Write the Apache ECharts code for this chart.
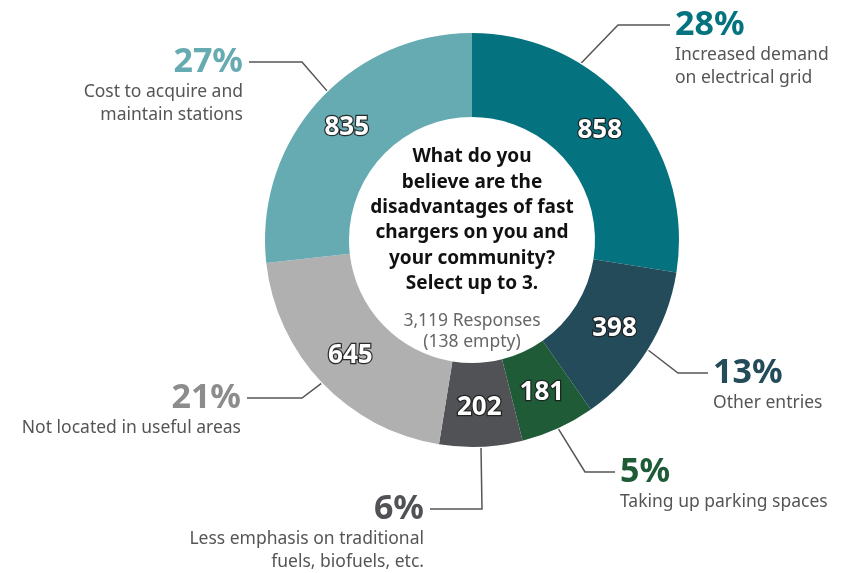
<!DOCTYPE html>
<html>
<head>
<meta charset="utf-8">
<script src="https://cdn.jsdelivr.net/npm/echarts@6/dist/echarts.min.js"></script>
<style>
html, body { margin: 0; padding: 0; background: #fff; }
#main { width: 848px; height: 573px; }
</style>
</head>
<body>
<div id="main"></div>
<script>
// survey answers, clockwise from 12 o'clock
var categories = [
  'Increased demand\non electrical grid',
  'Other entries',
  'Taking up parking spaces',
  'Less emphasis on traditional\nfuels, biofuels, etc.',
  'Not located in useful areas',
  'Cost to acquire and\nmaintain stations'
];
var counts = [858, 398, 181, 202, 645, 835];
var percents = ['28%', '13%', '5%', '6%', '21%', '27%'];

var sliceColors = ['#04737f', '#244b5a', '#1f5b37', '#515256', '#b0b0b0', '#66abb2'];
var pctColors = ['#04737f', '#244b5a', '#1f5b37', '#515256', '#8c8c8c', '#66abb2'];

var cx = 472, cy = 240, rIn = 123, rOut = 207;
var FONT = '"Noto Sans", "Open Sans", sans-serif';

// leader lines: angle (null = slice middle), elbow point, end x, side
var leaders = [
  { angle: 31.7, elbow: [618, 25], end: 670, right: true },
  { angle: null, elbow: [678, 373], end: 708, right: true },
  { angle: null, elbow: [585, 472], end: 615, right: true },
  { angle: null, elbow: [482, 509], end: 430, right: false },
  { angle: null, elbow: [302, 398], end: 247, right: false },
  { angle: 315.8, elbow: [302, 62], end: 249, right: false }
];

var total = counts.reduce(function (a, b) { return a + b; }, 0);
function midAngle(i) {
  var before = 0;
  for (var k = 0; k < i; k++) before += counts[k];
  return (before + counts[i] / 2) / total * 360;
}
function onRim(deg) {
  var a = deg * Math.PI / 180;
  return [cx + (rOut + 1) * Math.sin(a), cy - (rOut + 1) * Math.cos(a)];
}

var data = categories.map(function (c, i) {
  return { name: c, value: counts[i], itemStyle: { color: sliceColors[i] } };
});

var chart = echarts.init(document.getElementById('main'));

var option = {
  backgroundColor: '#fff',
  animation: false,
  graphic: [
    {
      type: 'text', x: cx, y: 144,
      style: {
        text: 'What do you\nbelieve are the\ndisadvantages of fast\nchargers on you and\nyour community?\nSelect up to 3.',
        font: 'bold 19px ' + FONT, lineHeight: 25.4,
        fill: '#111', align: 'center', verticalAlign: 'top'
      }
    },
    {
      type: 'text', x: cx, y: 311,
      style: {
        text: '3,119 Responses\n(138 empty)',
        font: '17.5px ' + FONT, lineHeight: 21,
        fill: '#666', align: 'center', verticalAlign: 'top'
      }
    }
  ],
  series: [
    {
      // the ring with counts inside
      type: 'pie',
      center: [cx, cy],
      radius: [rIn, rOut],
      startAngle: 90,
      silent: true,
      itemStyle: { borderColor: '#fff', borderWidth: 2 },
      label: {
        show: true,
        position: 'inside',
        formatter: '{c}',
        color: '#fff',
        fontFamily: FONT,
        fontSize: 26,
        fontWeight: 'bold',
        textBorderColor: 'rgba(30,30,30,0.9)',
        textBorderWidth: 2.5
      },
      labelLine: { show: false },
      data: data
    },
    {
      // same data again, only for the outside annotations
      type: 'pie',
      center: [cx, cy],
      radius: [rIn, rOut],
      startAngle: 90,
      silent: true,
      itemStyle: { color: 'rgba(0,0,0,0)' },
      label: {
        show: true,
        position: 'outside',
        overflow: 'none',
        formatter: function (p) {
          return '{p' + p.dataIndex + '|' + percents[p.dataIndex] + '}\n{t|' +
            p.name.split('\n').join('}\n{t|') + '}';
        },
        rich: (function () {
          var r = {
            t: { fontFamily: FONT, fontSize: 17.5, lineHeight: 23, color: '#555' }
          };
          pctColors.forEach(function (c, i) {
            r['p' + i] = { fontFamily: FONT, fontSize: 34, fontWeight: 'bold', lineHeight: 38, color: c };
          });
          return r;
        })()
      },
      labelLine: { show: true, lineStyle: { color: '#555', width: 1.5 } },
      labelLayout: function (p) {
        var L = leaders[p.dataIndex];
        var start = onRim(L.angle == null ? midAngle(p.dataIndex) : L.angle);
        return {
          x: L.right ? L.end + 5 : L.end - 6,
          y: L.elbow[1] - 19,
          width: 300,
          align: L.right ? 'left' : 'right',
          verticalAlign: 'top',
          labelLinePoints: [start, L.elbow, [L.end, L.elbow[1]]]
        };
      },
      data: data
    }
  ]
};

chart.setOption(option);
</script>
</body>
</html>
